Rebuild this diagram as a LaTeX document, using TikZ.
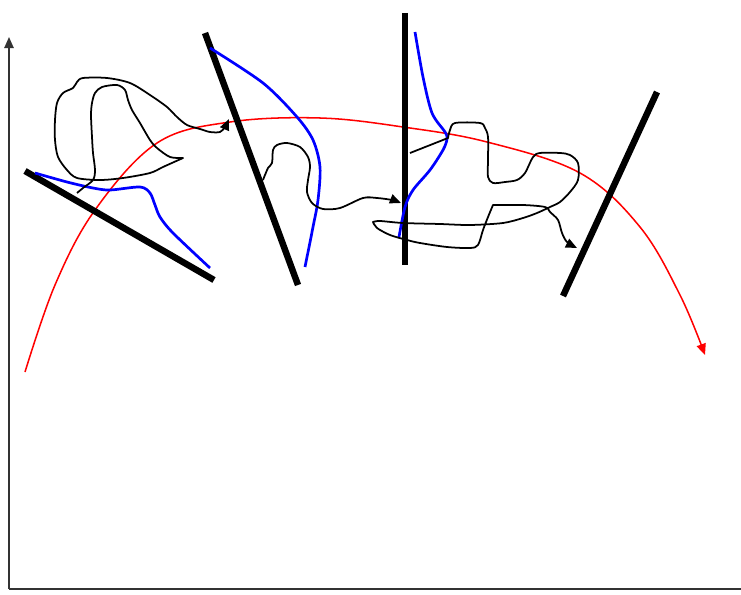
\documentclass[tikz,border=0pt]{standalone}
\usetikzlibrary{arrows.meta}

\begin{document}
\begin{tikzpicture}[
			x=0.03cm, y=-0.03cm,
			axis/.style={draw=black!80, line width=1.4pt},
			wall/.style={line width=5.5pt},
			trail/.style={line width=1.5pt, line join=round},
			profile/.style={blue, line width=2.3pt},
			tip/.style={-{Triangle[length=9.5pt,width=8pt]}}
			]
			\useasboundingbox (0,0) rectangle (741,594);
			
			% axes
			\coordinate (origin) at (9,589);
			\coordinate (ytop) at (9,37);
			\coordinate (xend) at (741,589);
			\draw[axis,tip] (origin) -- (ytop);
			\draw[axis] (origin) -- (xend);
			
			% red trajectory
			\draw[red, line width=1.3pt, tip] plot[smooth, tension=0.6] coordinates
			{(25,372) (55,285) (95,210) (157,143) (230,122) (320,118) (403,127) (487,142) (580,173) (640,227) (680,295) (705,355)};
			
			% walls
			\coordinate (w1a) at (25,171);  \coordinate (w1b) at (214,280);
			\coordinate (w2a) at (205,33);  \coordinate (w2b) at (298,285);
			\coordinate (w3a) at (405,13);  \coordinate (w3b) at (405,265);
			\coordinate (w4a) at (657,92);  \coordinate (w4b) at (563,296);
			\draw[wall] (w1a) -- (w1b);
			\draw[wall] (w2a) -- (w2b);
			\draw[wall] (w3a) -- (w3b);
			\draw[wall] (w4a) -- (w4b);
			
			% blue profiles
			\draw[profile] plot[smooth] coordinates
			{(35,173) (67,182) (93,188) (110,190) (140,187) (150,193) (155,205) (160,217) (173,233) (210,268)};
			\draw[profile] plot[smooth] coordinates
			{(210,48) (263,83) (297,117) (313,140) (320,167) (318,200) (313,227) (305,267)};
			\draw[profile] plot[smooth] coordinates
			{(415,32) (423,77) (432,113) (445,132) (447,139) (443,150) (430,170) (413,190) (405,207) (399,237)};
			
			% random walks
			\draw[trail,tip] plot[smooth, tension=0.5] coordinates
			{(77,193) (83,188) (93,180) (95,170) (93,153) (92,137) (91,115) (92,103) (95,93) (102,87) (117,85) (125,90) (128,100) (132,110) (140,123) (150,140) (157,148) (170,157) (183,158)}
			-- plot[smooth, tension=0.5] coordinates
			{(183,158) (163,167) (150,173) (123,178) (100,180) (77,178) (67,170) (58,157) (55,140) (55,120) (57,103) (63,93) (73,88) (77,82) (83,78) (107,78) (130,83) (150,95) (167,107) (177,117) (187,125) (200,129) (210,132) (220,132) (225,127) (229,119)};
			\draw[trail,tip] plot[smooth, tension=0.5] coordinates
			{(263,180) (268,168) (272,163) (273,150) (277,145) (287,143) (300,147) (308,157) (310,167) (308,180) (307,192) (312,203) (323,209) (340,208) (363,198) (377,198) (392,200) (401,203)};
			\draw[trail,tip] (410,153) -- plot[smooth, tension=0.5] coordinates
			{(448,138) (450,130) (455,123) (480,123) (485,128) (488,137) (488,160) (488,177) (493,183) (505,182) (517,180) (525,173) (533,157) (540,153) (560,153) (570,155) (578,163) (578,180) (570,192) (560,202) (550,207) (537,213) (523,218) (503,223) (470,225) (440,224) (403,223) (380,221) (373,222)}
			-- plot[smooth, tension=0.5] coordinates
			{(373,222) (377,228) (390,235) (407,240) (420,243) (447,247) (470,248) (478,245) (483,230) (488,217) (493,205)}
			-- plot[smooth, tension=0.5] coordinates
			{(493,205) (523,205) (545,207) (550,212) (558,220) (562,233) (567,242) (577,248)};
			
		\end{tikzpicture}
\end{document}
